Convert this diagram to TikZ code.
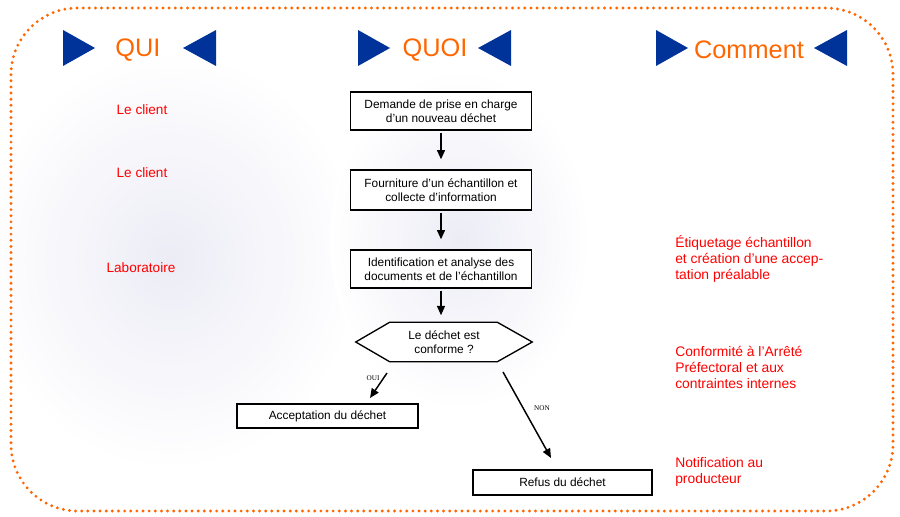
\documentclass[tikz,border=0pt]{standalone}
\usepackage{fontspec}
\setmainfont{Liberation Sans}
\newfontfamily\serifnote{Liberation Serif}
\usepackage{tikz}
\usetikzlibrary{arrows.meta, calc, positioning}
\definecolor{headorange}{RGB}{255,102,0}
\definecolor{headnavy}{RGB}{0,51,153}
\definecolor{whored}{RGB}{255,0,0}
\definecolor{haze}{RGB}{236,236,246}

\begin{document}
\begin{tikzpicture}[
    x=0.75pt, y=-0.75pt,
    box/.style={rectangle, draw=black, fill=white, line width=1pt, minimum width=181*0.75pt, align=center, font=\fontsize{8.9}{10.4}\selectfont, inner sep=0pt},
    who/.style={text=whored, font=\fontsize{10.2}{12}\selectfont},
    how/.style={text=whored, anchor=north west, align=left, font=\fontsize{10.4}{12}\selectfont, inner sep=0pt},
    head/.style={text=headorange, font=\fontsize{19}{22}\selectfont},
    tag/.style={font=\serifnote\fontsize{5.4}{6}\selectfont, inner sep=1pt},
    arrow/.style={-{Triangle[length=7pt, width=6pt]}, line width=1.1pt}
]
    \useasboundingbox (0,0) rectangle (900,517);

    % Haze in the background
    \shade[inner color=haze, outer color=white] (170,260) ellipse (190 and 210);
    \shade[inner color=haze, outer color=white] (460,240) ellipse (130 and 170);

    % Frame
    \draw[headorange, line width=2.4pt, line cap=round, dash pattern=on 0pt off 4.6pt, rounded corners=50pt]
        (11,8) rectangle (893,511);

    % Headers
    \node[head] (qui) at (138,50) {QUI};
    \node[head] (quoi) at (435,50) {QUOI};
    \node[head] (comment) at (749,50) {Comment};
    \foreach \xl/\xr in {63/216, 358/511, 656/847} {
        \fill[headnavy] (\xl,30) -- (\xl+32,48) -- (\xl,66) -- cycle;
        \fill[headnavy] (\xr,30) -- (\xr-33,48) -- (\xr,66) -- cycle;
    }

    % Steps
    \node[box, minimum height=38*0.75pt] (dem) at (441,111) {Demande de prise en charge\\d'un nouveau déchet};
    \node[box, minimum height=40*0.75pt] (fourn) at (441,190) {Fourniture d'un échantillon et\\collecte d'information};
    \node[box, minimum height=38*0.75pt] (ident) at (441,269) {Identification et analyse des\\documents et de l'échantillon};
    \node[minimum width=176*0.75pt, minimum height=39*0.75pt, inner sep=0pt] (conf) at (444,342) {};
    \draw[line width=1pt, fill=white] (conf.west) -- ($(conf.north west)+(34,0)$) -- ($(conf.north east)+(-35,0)$)
        -- (conf.east) -- ($(conf.south east)+(-35,0)$) -- ($(conf.south west)+(34,0)$) -- cycle;
    \node[align=center, font=\fontsize{8.9}{10.4}\selectfont] (conftext) at (conf) {Le déchet est\\conforme ?};
    \node[box, minimum height=24*0.75pt] (acc) at (327.5,416) {Acceptation du déchet};
    \node[box, minimum height=25*0.75pt, minimum width=179*0.75pt] (refus) at (562.5,482.5) {Refus du déchet};

    % Arrows
    \draw[arrow] ([yshift=-2*0.75pt]dem.south) -- ([yshift=10*0.75pt]fourn.north);
    \draw[arrow] ([yshift=-2*0.75pt]fourn.south) -- ([yshift=10*0.75pt]ident.north);
    \draw[arrow] ([yshift=-2*0.75pt]ident.south) -- ([yshift=7*0.75pt]ident.south |- conf.north);
    \coordinate (ouiS) at (387,373);
    \coordinate (ouiE) at (370,398);
    \coordinate (nonS) at (503,372);
    \coordinate (nonE) at (551,458);
    \draw[arrow] (ouiS) -- (ouiE);
    \draw[arrow] (nonS) -- (nonE);
    \node[tag] (oui) at (373,378) {OUI};
    \node[tag] (non) at (542,408) {NON};

    % Who
    \node[who] (cl1) at (142,110) {Le client};
    \node[who] (cl2) at (142,173) {Le client};
    \node[who] (labo) at (141,268) {Laboratoire};

    % How
    \node[how] (etiq) at (675,235) {Étiquetage échantillon\\et création d'une accep-\\tation préalable};
    \node[how] (arr) at (675,346) {Conformité à l'Arrêté\\Préfectoral et aux\\contraintes internes};
    \node[how] (notif) at (675,457) {Notification au\\producteur};
\end{tikzpicture}
\end{document}
